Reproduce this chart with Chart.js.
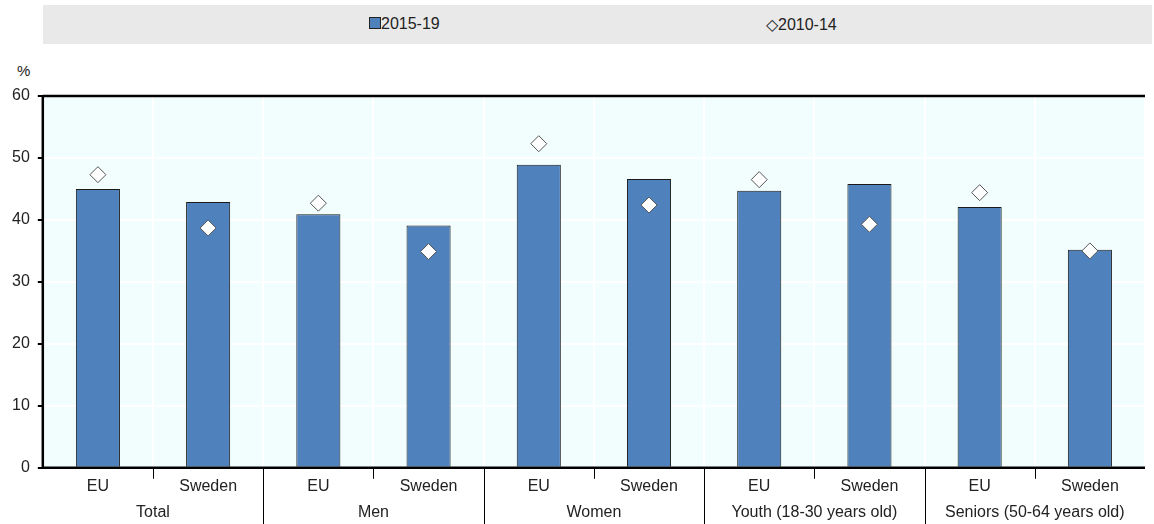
<!DOCTYPE html>
<html>
<head>
<meta charset="utf-8">
<script src="https://cdn.jsdelivr.net/npm/chart.js@4"></script>
<style>
  body { margin: 0; background: #fff; font-family: "Liberation Sans", Arial, sans-serif; }
  #wrap { position: relative; width: 1154px; height: 524px; }
  #legend { position: absolute; left: 43px; top: 5px; width: 1109px; height: 39px; background: #e9e9e9; font-size: 16px; color: #222; }
  .item { position: absolute; top: 10px; }
  .sw { display: inline-block; width: 10px; height: 10px; background: #4f81bd; border: 1px solid #222; vertical-align: 0px; }
  #pct { position: absolute; left: 17px; top: 62px; font-size: 15px; color: #222; }
  canvas { position: absolute; left: 0; top: 0; }
</style>
</head>
<body>
<div id="wrap">
  <div id="legend">
    <span class="item" style="left:326px"><span class="sw"></span>2015-19</span>
    <span class="item" style="left:723px">&#9671;2010-14</span>
  </div>
  <div id="pct">%</div>
  <canvas id="c" width="1154" height="524"></canvas>
</div>
<script>
const subLabels = ['EU', 'Sweden', 'EU', 'Sweden', 'EU', 'Sweden', 'EU', 'Sweden', 'EU', 'Sweden'];
const groups = ['Total', 'Men', 'Women', 'Youth (18-30 years old)', 'Seniors (50-64 years old)'];
const recent = [45.0, 42.9, 40.9, 39.1, 48.9, 46.6, 44.7, 45.8, 42.1, 35.2];
const earlier = [47.3, 38.7, 42.7, 34.9, 52.3, 42.4, 46.5, 39.3, 44.4, 35.0];

const FONT = '"Liberation Sans", Arial, sans-serif';

const decor = {
  id: 'decor',
  beforeDraw(chart) {
    const { ctx, chartArea: a } = chart;
    ctx.save();
    ctx.fillStyle = '#f2fdfd';
    ctx.fillRect(a.left, a.top, a.right - a.left, a.bottom - a.top);
    ctx.restore();
  },
  afterDraw(chart) {
    const { ctx, chartArea: a } = chart;
    const x = chart.scales.x;
    ctx.save();
    ctx.strokeStyle = '#000';
    ctx.lineWidth = 2.5;
    ctx.beginPath();
    ctx.moveTo(a.left, a.top); ctx.lineTo(a.right, a.top);
    ctx.moveTo(a.left, a.top); ctx.lineTo(a.left, a.bottom);
    ctx.moveTo(a.left, a.bottom); ctx.lineTo(a.right, a.bottom);
    ctx.stroke();
    ctx.lineWidth = 1;
    ctx.font = '16px ' + FONT;
    ctx.fillStyle = '#222';
    ctx.textAlign = 'center';
    ctx.textBaseline = 'middle';
    for (let g = 0; g < groups.length; g++) {
      const p0 = x.getPixelForValue(2 * g), p1 = x.getPixelForValue(2 * g + 1);
      const half = (p1 - p0) / 2;
      const mid = (p0 + p1) / 2;
      ctx.beginPath();
      ctx.moveTo(Math.round(mid) + 0.5, a.bottom); ctx.lineTo(Math.round(mid) + 0.5, a.bottom + 11);
      if (g > 0) {
        const b = Math.round(p0 - half) + 0.5;
        ctx.moveTo(b, a.bottom); ctx.lineTo(b, 524);
      }
      ctx.stroke();
      ctx.fillText(groups[g], mid, a.bottom + 45);
    }
    ctx.restore();
  }
};

new Chart(document.getElementById('c'), {
  data: {
    labels: subLabels,
    datasets: [
      {
        type: 'bar', label: '2015-19', data: recent, order: 2,
        backgroundColor: '#4f81bd', borderColor: '#1a1a1a', borderWidth: 1,
        barPercentage: 0.4, categoryPercentage: 1
      },
      {
        type: 'line', label: '2010-14', data: earlier, order: 1, showLine: false,
        pointStyle: 'rectRot', pointRadius: 8, pointBackgroundColor: '#fff',
        pointBorderColor: '#555', pointBorderWidth: 1
      }
    ]
  },
  options: {
    responsive: false, animation: false,
    layout: { padding: { left: 4, right: 2, top: 96, bottom: 19 } },
    plugins: { legend: { display: false }, tooltip: { enabled: false } },
    scales: {
      x: {
        offset: true,
        grid: { offset: true, color: '#ffffff', lineWidth: 2, drawTicks: false },
        border: { display: false },
        ticks: { color: '#222', font: { size: 16, family: FONT }, padding: 9 }
      },
      y: {
        min: 0, max: 60,
        ticks: { stepSize: 10, color: '#222', font: { size: 16, family: FONT }, padding: 8 },
        grid: { color: '#ffffff', lineWidth: 2, tickColor: '#000', tickLength: 5 },
        border: { display: false }
      }
    }
  },
  plugins: [decor]
});
</script>
</body>
</html>
